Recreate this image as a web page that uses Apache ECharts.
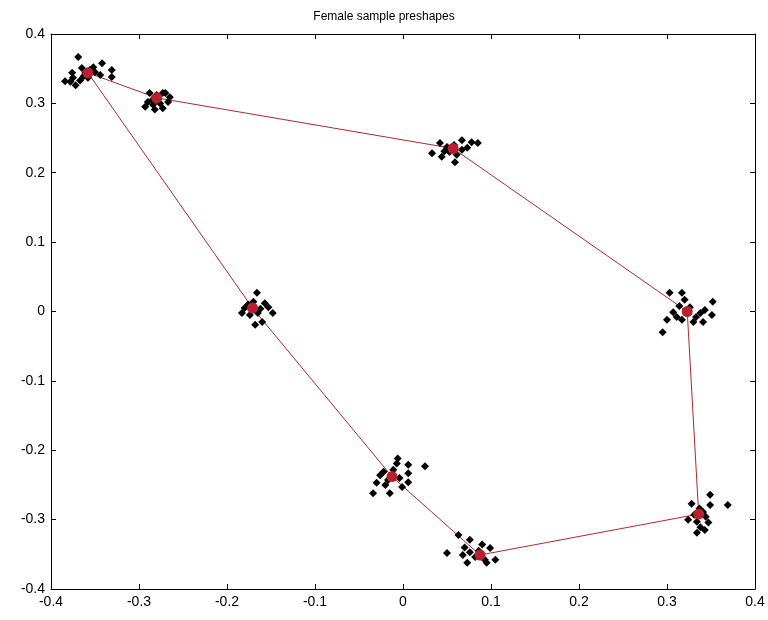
<!DOCTYPE html>
<html>
<head>
<meta charset="utf-8">
<script src="https://cdn.jsdelivr.net/npm/echarts@6/dist/echarts.min.js"></script>
<style>html,body{margin:0;padding:0;background:#fff}#c{width:768px;height:620px}</style>
</head>
<body>
<div id="c"></div>
<script>
var titleText = 'Female sample preshapes';
var axisTicks = [-0.4, -0.3, -0.2, -0.1, 0, 0.1, 0.2, 0.3, 0.4];

// mean shape landmarks (polygon order)
var meanX = [-0.358, -0.280, 0.057, 0.323, 0.336, 0.0875, -0.0125, -0.171];
var meanY = [0.344, 0.308, 0.235, 0.0, -0.292, -0.351, -0.238, 0.005];

// sample landmark points, one array per landmark cluster
var c1X = [-0.369,-0.342,-0.331,-0.331,-0.376,-0.384,-0.378,-0.372,-0.367,-0.363,-0.356,-0.350,-0.365,-0.358,-0.344,-0.375,-0.352,-0.361];
var c1Y = [0.367,0.358,0.348,0.338,0.344,0.332,0.331,0.326,0.333,0.339,0.348,0.345,0.351,0.337,0.341,0.337,0.352,0.344];
var c2X = [-0.293,-0.282,-0.273,-0.267,-0.288,-0.285,-0.276,-0.265,-0.290,-0.280,-0.273,-0.270,-0.278,-0.284];
var c2Y = [0.295,0.291,0.315,0.302,0.315,0.305,0.300,0.309,0.302,0.312,0.293,0.315,0.306,0.298];
var c3X = [0.033,0.044,0.059,0.067,0.078,0.085,0.042,0.050,0.067,0.073,0.061,0.053,0.058,0.047];
var c3Y = [0.228,0.223,0.215,0.247,0.244,0.243,0.243,0.237,0.233,0.236,0.226,0.230,0.240,0.231];
var c4X = [0.303,0.317,0.352,0.300,0.295,0.307,0.311,0.338,0.351,0.330,0.341,0.320,0.326,0.317,0.343,0.314,0.333];
var c4Y = [0.027,0.027,0.014,-0.012,-0.030,-0.001,-0.008,-0.002,-0.005,-0.015,-0.015,0.017,0.006,-0.012,0.002,0.008,-0.008];
var c5X = [0.349,0.328,0.369,0.349,0.324,0.334,0.347,0.334,0.343,0.338,0.341,0.331,0.344,0.337];
var c5Y = [-0.264,-0.277,-0.279,-0.279,-0.300,-0.303,-0.304,-0.319,-0.315,-0.311,-0.289,-0.293,-0.296,-0.284];
var c6X = [0.050,0.063,0.076,0.090,0.099,0.068,0.073,0.093,0.105,0.082,0.095,0.076,0.086,0.070];
var c6Y = [-0.348,-0.322,-0.329,-0.336,-0.341,-0.351,-0.362,-0.358,-0.358,-0.354,-0.362,-0.347,-0.345,-0.340];
var c7X = [-0.006,-0.007,0.006,0.025,0.006,-0.026,0.006,-0.030,-0.020,-0.034,-0.015,-0.001,-0.011,-0.017,-0.004,-0.022];
var c7Y = [-0.212,-0.219,-0.221,-0.223,-0.233,-0.236,-0.246,-0.247,-0.250,-0.262,-0.262,-0.253,-0.228,-0.243,-0.240,-0.231];
var c8X = [-0.166,-0.180,-0.183,-0.148,-0.153,-0.160,-0.157,-0.170,-0.174,-0.165,-0.168,-0.162,-0.176];
var c8Y = [0.027,0.005,-0.002,-0.002,0.006,-0.015,0.012,0.014,-0.005,-0.002,-0.019,0.004,0.010];

function zip(xs, ys){ return xs.map(function(x,i){ return [x, ys[i]]; }); }
var clusters = [[c1X,c1Y],[c2X,c2Y],[c3X,c3Y],[c4X,c4Y],[c5X,c5Y],[c6X,c6Y],[c7X,c7Y],[c8X,c8Y]];
var samplePts = [];
clusters.forEach(function(c){ samplePts = samplePts.concat(zip(c[0], c[1])); });
var meanPts = zip(meanX, meanY);
var polygon = meanPts.concat([meanPts[0]]);

var font = 'Liberation Sans, Arial, sans-serif';
function axisBase(pos, show){
  return {
    type: 'value', position: pos, min: -0.4, max: 0.4, interval: 0.1,
    axisLine: {show: true, onZero: false, lineStyle: {color: '#000', width: 1}},
    axisTick: {show: true, inside: true, length: 5, lineStyle: {color: '#000'}},
    axisLabel: {show: show, color: '#000', fontSize: 14, fontFamily: font, margin: 6,
      formatter: function(v){ var r = Math.round(v*10)/10; return axisTicks.indexOf(r) >= 0 ? String(r) : ''; }},
    splitLine: {show: false}
  };
}
var chart = echarts.init(document.getElementById('c'), null, {renderer: 'canvas'});
chart.setOption({
  backgroundColor: '#fff',
  animation: false,
  title: {text: titleText, left: 'center', top: 6,
    textStyle: {fontSize: 12, fontWeight: 'normal', color: '#000', fontFamily: font}},
  grid: {left: 51, right: 13, top: 34, bottom: 31},
  xAxis: [axisBase('bottom', true), axisBase('top', false)],
  yAxis: [axisBase('left', true), axisBase('right', false)],
  series: [
    {type: 'line', xAxisIndex: 0, yAxisIndex: 0, data: polygon, showSymbol: false, symbol: 'none',
      lineStyle: {color: '#b02a2a', width: 1}, z: 2},
    {type: 'scatter', xAxisIndex: 0, yAxisIndex: 0, data: samplePts, symbol: 'diamond', symbolSize: 8,
      itemStyle: {color: '#000', opacity: 1}, z: 3},
    {type: 'scatter', xAxisIndex: 0, yAxisIndex: 0, data: meanPts, symbol: 'circle', symbolSize: 11,
      itemStyle: {color: '#b8202e', opacity: 1}, z: 4}
  ]
});
</script>
</body>
</html>
